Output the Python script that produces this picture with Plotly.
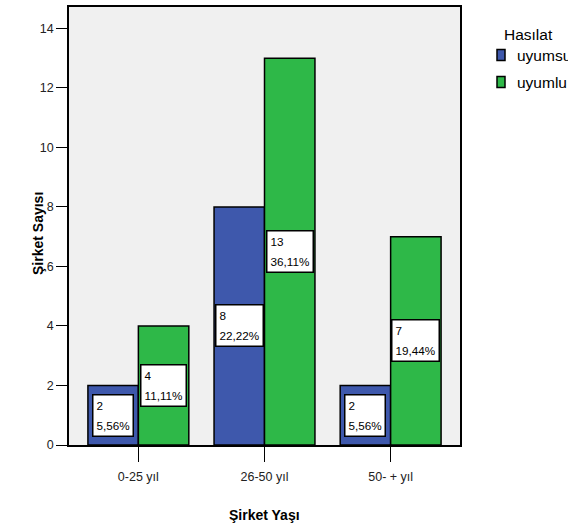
import plotly.graph_objects as go

# ---- data ----
categories = ["0-25 yıl", "26-50 yıl", "50- + yıl"]
series_names = ["uyumsuz", "uyumlu"]
uyumsuz_counts = [2, 8, 2]
uyumlu_counts = [4, 13, 7]
uyumsuz_pct = ["5,56%", "22,22%", "5,56%"]
uyumlu_pct = ["11,11%", "36,11%", "19,44%"]
y_tick_values = [0, 2, 4, 6, 8, 10, 12, 14]
legend_title = "Hasılat"
x_title = "Şirket Yaşı"
y_title = "Şirket Sayısı"

BLUE = "#3E58AC"
GREEN = "#2EB848"
FONT = "Arial, 'Liberation Sans', sans-serif"

fig = go.Figure()
series = [
    (series_names[0], uyumsuz_counts, uyumsuz_pct, BLUE, -0.2),
    (series_names[1], uyumlu_counts, uyumlu_pct, GREEN, 0.2),
]
for name, vals, pcts, color, off in series:
    fig.add_trace(go.Bar(
        x=categories, y=vals, name=name,
        marker=dict(color=color, line=dict(color="black", width=1.5)),
        showlegend=False, hoverinfo="skip",
    ))
    for i, (v, p) in enumerate(zip(vals, pcts)):
        fig.add_annotation(
            x=i + off, y=v / 2, xref="x", yref="y",
            text=f"<span style='font-size:11.7px'>{v}</span><br><span style='font-size:11.7px'>{p}</span>",
            showarrow=False, align="left",
            font=dict(family=FONT, size=16, color="black"),
            bgcolor="white", bordercolor="black", borderwidth=1.5, borderpad=3,
            xanchor="center", yanchor="middle",
        )

# manual legend
fig.add_annotation(x=1, y=1, xref="paper", yref="paper", xshift=42, yshift=-27.5,
                   text=legend_title, showarrow=False, xanchor="left", yanchor="middle",
                   font=dict(family=FONT, size=15.5, color="black"))
for k, (name, color) in enumerate(zip(series_names, [BLUE, GREEN])):
    fig.add_shape(type="rect", xref="paper", yref="paper", xsizemode="pixel", ysizemode="pixel",
                  xanchor=1, yanchor=1, x0=37, x1=45, y0=-42.5 - 27 * k, y1=-53.5 - 27 * k,
                  fillcolor=color, line=dict(color="black", width=1.5))
    fig.add_annotation(x=1, y=1, xref="paper", yref="paper", xshift=55, yshift=-48 - 27 * k,
                       text=name, showarrow=False, xanchor="left", yanchor="middle",
                       font=dict(family=FONT, size=15.5, color="black"))

# axis titles
fig.add_annotation(x=0.5, y=0, xref="paper", yref="paper", yshift=-70, text=f"<b>{x_title}</b>",
                   showarrow=False, xanchor="center", yanchor="middle",
                   font=dict(family=FONT, size=14, color="black"))
fig.add_annotation(x=0, y=0.5, xref="paper", yref="paper", xshift=-31, yshift=-8,
                   text=f"<b>{y_title}</b>",
                   textangle=-90, showarrow=False, xanchor="center", yanchor="middle",
                   font=dict(family=FONT, size=14, color="black"))

fig.update_layout(
    width=568, height=529,
    margin=dict(l=69, r=108, t=6.5, b=84, autoexpand=False),
    paper_bgcolor="white", plot_bgcolor="#F0F0F0",
    barmode="group", bargap=0.2, bargroupgap=0,
    font=dict(family=FONT, color="#222"),
    showlegend=False,
)
fig.update_xaxes(
    range=[-0.55, 2.55], ticks="outside", ticklen=15, tickcolor="black", tickwidth=1,
    showline=True, mirror=True, linecolor="black", linewidth=1.5, showgrid=False,
    tickfont=dict(size=12.5, color="#222"), ticklabelstandoff=4,
)
fig.update_yaxes(
    range=[0, 14.72], tickvals=y_tick_values, ticks="outside", ticklen=11, tickcolor="black",
    tickwidth=1, showline=True, mirror=True, linecolor="black", linewidth=1.5, showgrid=False,
    zeroline=False, tickfont=dict(size=12.5, color="#222"),
)
fig.write_html("out.html", config={"displayModeBar": False},
               post_script="document.body.style.margin='0';")
